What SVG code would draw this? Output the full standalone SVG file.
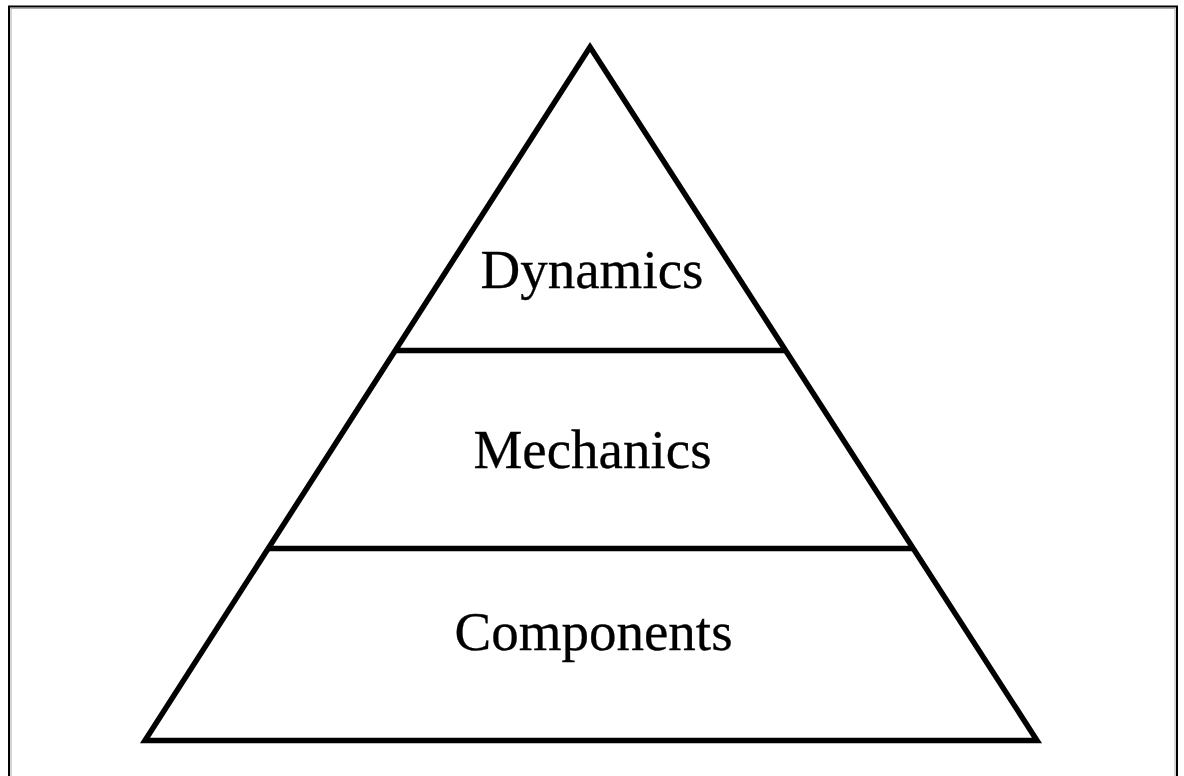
<svg xmlns="http://www.w3.org/2000/svg" width="1184" height="776" viewBox="0 0 1184 776">
  <style>
    .edge { stroke: #000; stroke-width: 5.5; fill: none; stroke-linejoin: miter; stroke-linecap: butt; }
    .label { font-family: "Liberation Serif", "Times New Roman", serif; font-size: 55px; fill: #000; stroke: #000; stroke-width: 0.3; text-anchor: middle; }
  </style>
  <rect width="1184" height="776" fill="#fff"/>
  <!-- outer frame -->
  <rect x="9" y="6.5" width="1168" height="800" fill="none" stroke="#000" stroke-width="2"/>
  <rect x="11" y="8.5" width="1164" height="800" fill="none" stroke="#aaa" stroke-width="1"/>

  <g id="pyramid">
    <polygon class="edge" points="590,47 1037,740.5 145,740.5" stroke-width="6"/>
  </g>

  <g id="connectors">
    <line class="edge" x1="395" y1="350.5" x2="785" y2="350.5"/>
    <line class="edge" x1="268" y1="548.5" x2="912" y2="548.5"/>
  </g>

  <g id="node-dynamics">
    <text class="label" x="592" y="288">Dynamics</text>
  </g>
  <g id="node-mechanics">
    <text class="label" x="592.5" y="468">Mechanics</text>
  </g>
  <g id="node-components">
    <text class="label" x="593.5" y="650">Components</text>
  </g>
</svg>
